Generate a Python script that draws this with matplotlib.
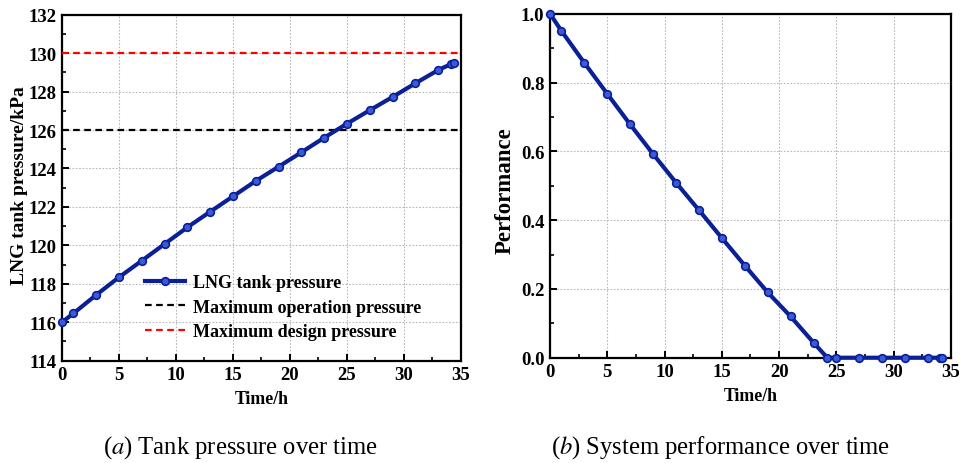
import matplotlib
matplotlib.use("Agg")
import matplotlib.pyplot as plt
from matplotlib.ticker import MultipleLocator

plt.rcParams["font.family"] = ["Liberation Serif", "DejaVu Serif"]
plt.rcParams["mathtext.fontset"] = "stix"

# Tank pressure over time
time_p = [0, 1, 3, 5, 7, 9, 11, 13, 15, 17, 19, 21, 23, 25, 27, 29, 31, 33, 34.1, 34.4]
pressure = [116.0, 116.46, 117.42, 118.34, 119.2, 120.07, 120.94, 121.75, 122.55, 123.35,
            124.09, 124.84, 125.6, 126.33, 127.03, 127.72, 128.43, 129.12, 129.42, 129.47]
max_operation = 126
max_design = 130

# System performance over time
time_s = [0, 1, 3, 5, 7, 9, 11, 13, 15, 17, 19, 21, 23, 24.2, 25, 27, 29, 31, 33, 34.0, 34.2]
performance = [1.0, 0.95, 0.857, 0.767, 0.678, 0.592, 0.509, 0.429, 0.348, 0.268,
               0.19, 0.12, 0.044, 0.0, 0.0, 0.0, 0.0, 0.0, 0.0, 0.0, 0.0]

line_color = "#0b1f96"
face_color = "#3a5ad8"

fig = plt.figure(figsize=(9.61, 4.64), dpi=100)
ax1 = fig.add_axes([0.0645, 0.2205, 0.4152, 0.7457])
ax2 = fig.add_axes([0.5723, 0.2269, 0.4173, 0.7414])

tick_fs = 13.5
xlabel_fs = 12.8


def style_axes(ax):
    for s in ax.spines.values():
        s.set_linewidth(1.6)
        s.set_color("black")
    ax.tick_params(which="both", direction="in", top=False, right=False)
    ax.tick_params(which="major", length=5, width=1.4, labelsize=tick_fs, pad=4)
    ax.tick_params(which="minor", length=3, width=1.2)
    for lab in ax.get_xticklabels() + ax.get_yticklabels():
        lab.set_fontweight("bold")
    ax.grid(True, which="major", linestyle=(0, (1.5, 1.5)), color="#b8b8b8", linewidth=0.8)
    ax.set_axisbelow(True)


# Panel (a)
ax1.plot(time_p, pressure, color=line_color, linewidth=3, marker="o", markersize=5.5,
         markerfacecolor=face_color, markeredgecolor=line_color, markeredgewidth=1.2,
         label="LNG tank pressure", clip_on=False, zorder=4)
ax1.axhline(max_operation, color="black", linestyle=(0, (3, 2)), linewidth=1.6,
            label="Maximum operation pressure", zorder=3)
ax1.axhline(max_design, color="#ff0000", linestyle=(0, (3, 2)), linewidth=1.6,
            label="Maximum design pressure", zorder=3)
ax1.set_xlim(0, 35)
ax1.set_ylim(114, 132)
ax1.xaxis.set_major_locator(MultipleLocator(5))
ax1.xaxis.set_minor_locator(MultipleLocator(2.5))
ax1.yaxis.set_major_locator(MultipleLocator(2))
ax1.yaxis.set_minor_locator(MultipleLocator(1))
ax1.set_xlabel("Time/h", fontsize=xlabel_fs, fontweight="bold", labelpad=5)
ax1.set_ylabel("LNG tank pressure/kPa", fontsize=14, fontweight="bold")
style_axes(ax1)
ax1.yaxis.set_label_coords(-0.085, 0.51)
leg = ax1.legend(loc="upper left", bbox_to_anchor=(0.19, 0.27), frameon=False,
                 prop={"size": 13, "weight": "bold"}, handlelength=2.2,
                 handletextpad=0.45, labelspacing=0.4, borderaxespad=0)

# Panel (b)
ax2.plot(time_s, performance, color=line_color, linewidth=3, marker="o", markersize=5.5,
         markerfacecolor=face_color, markeredgecolor=line_color, markeredgewidth=1.2,
         clip_on=False, zorder=4)
ax2.set_xlim(0, 35)
ax2.set_ylim(0, 1.0)
ax2.xaxis.set_major_locator(MultipleLocator(5))
ax2.xaxis.set_minor_locator(MultipleLocator(2.5))
ax2.yaxis.set_major_locator(MultipleLocator(0.2))
ax2.yaxis.set_minor_locator(MultipleLocator(0.1))
ax2.set_xlabel("Time/h", fontsize=xlabel_fs, fontweight="bold", labelpad=5)
ax2.set_ylabel("Performance", fontsize=16.5, fontweight="bold")
style_axes(ax2)
ax2.yaxis.set_label_coords(-0.085, 0.4875)

# Captions
fig.text(0.25, 0.035, r"($\mathit{a}$) Tank pressure over time", ha="center",
         va="center", fontsize=17.7)
fig.text(0.75, 0.035, r"($\mathit{b}$) System performance over time", ha="center",
         va="center", fontsize=17.7)

fig.savefig("out.png", dpi=100)
